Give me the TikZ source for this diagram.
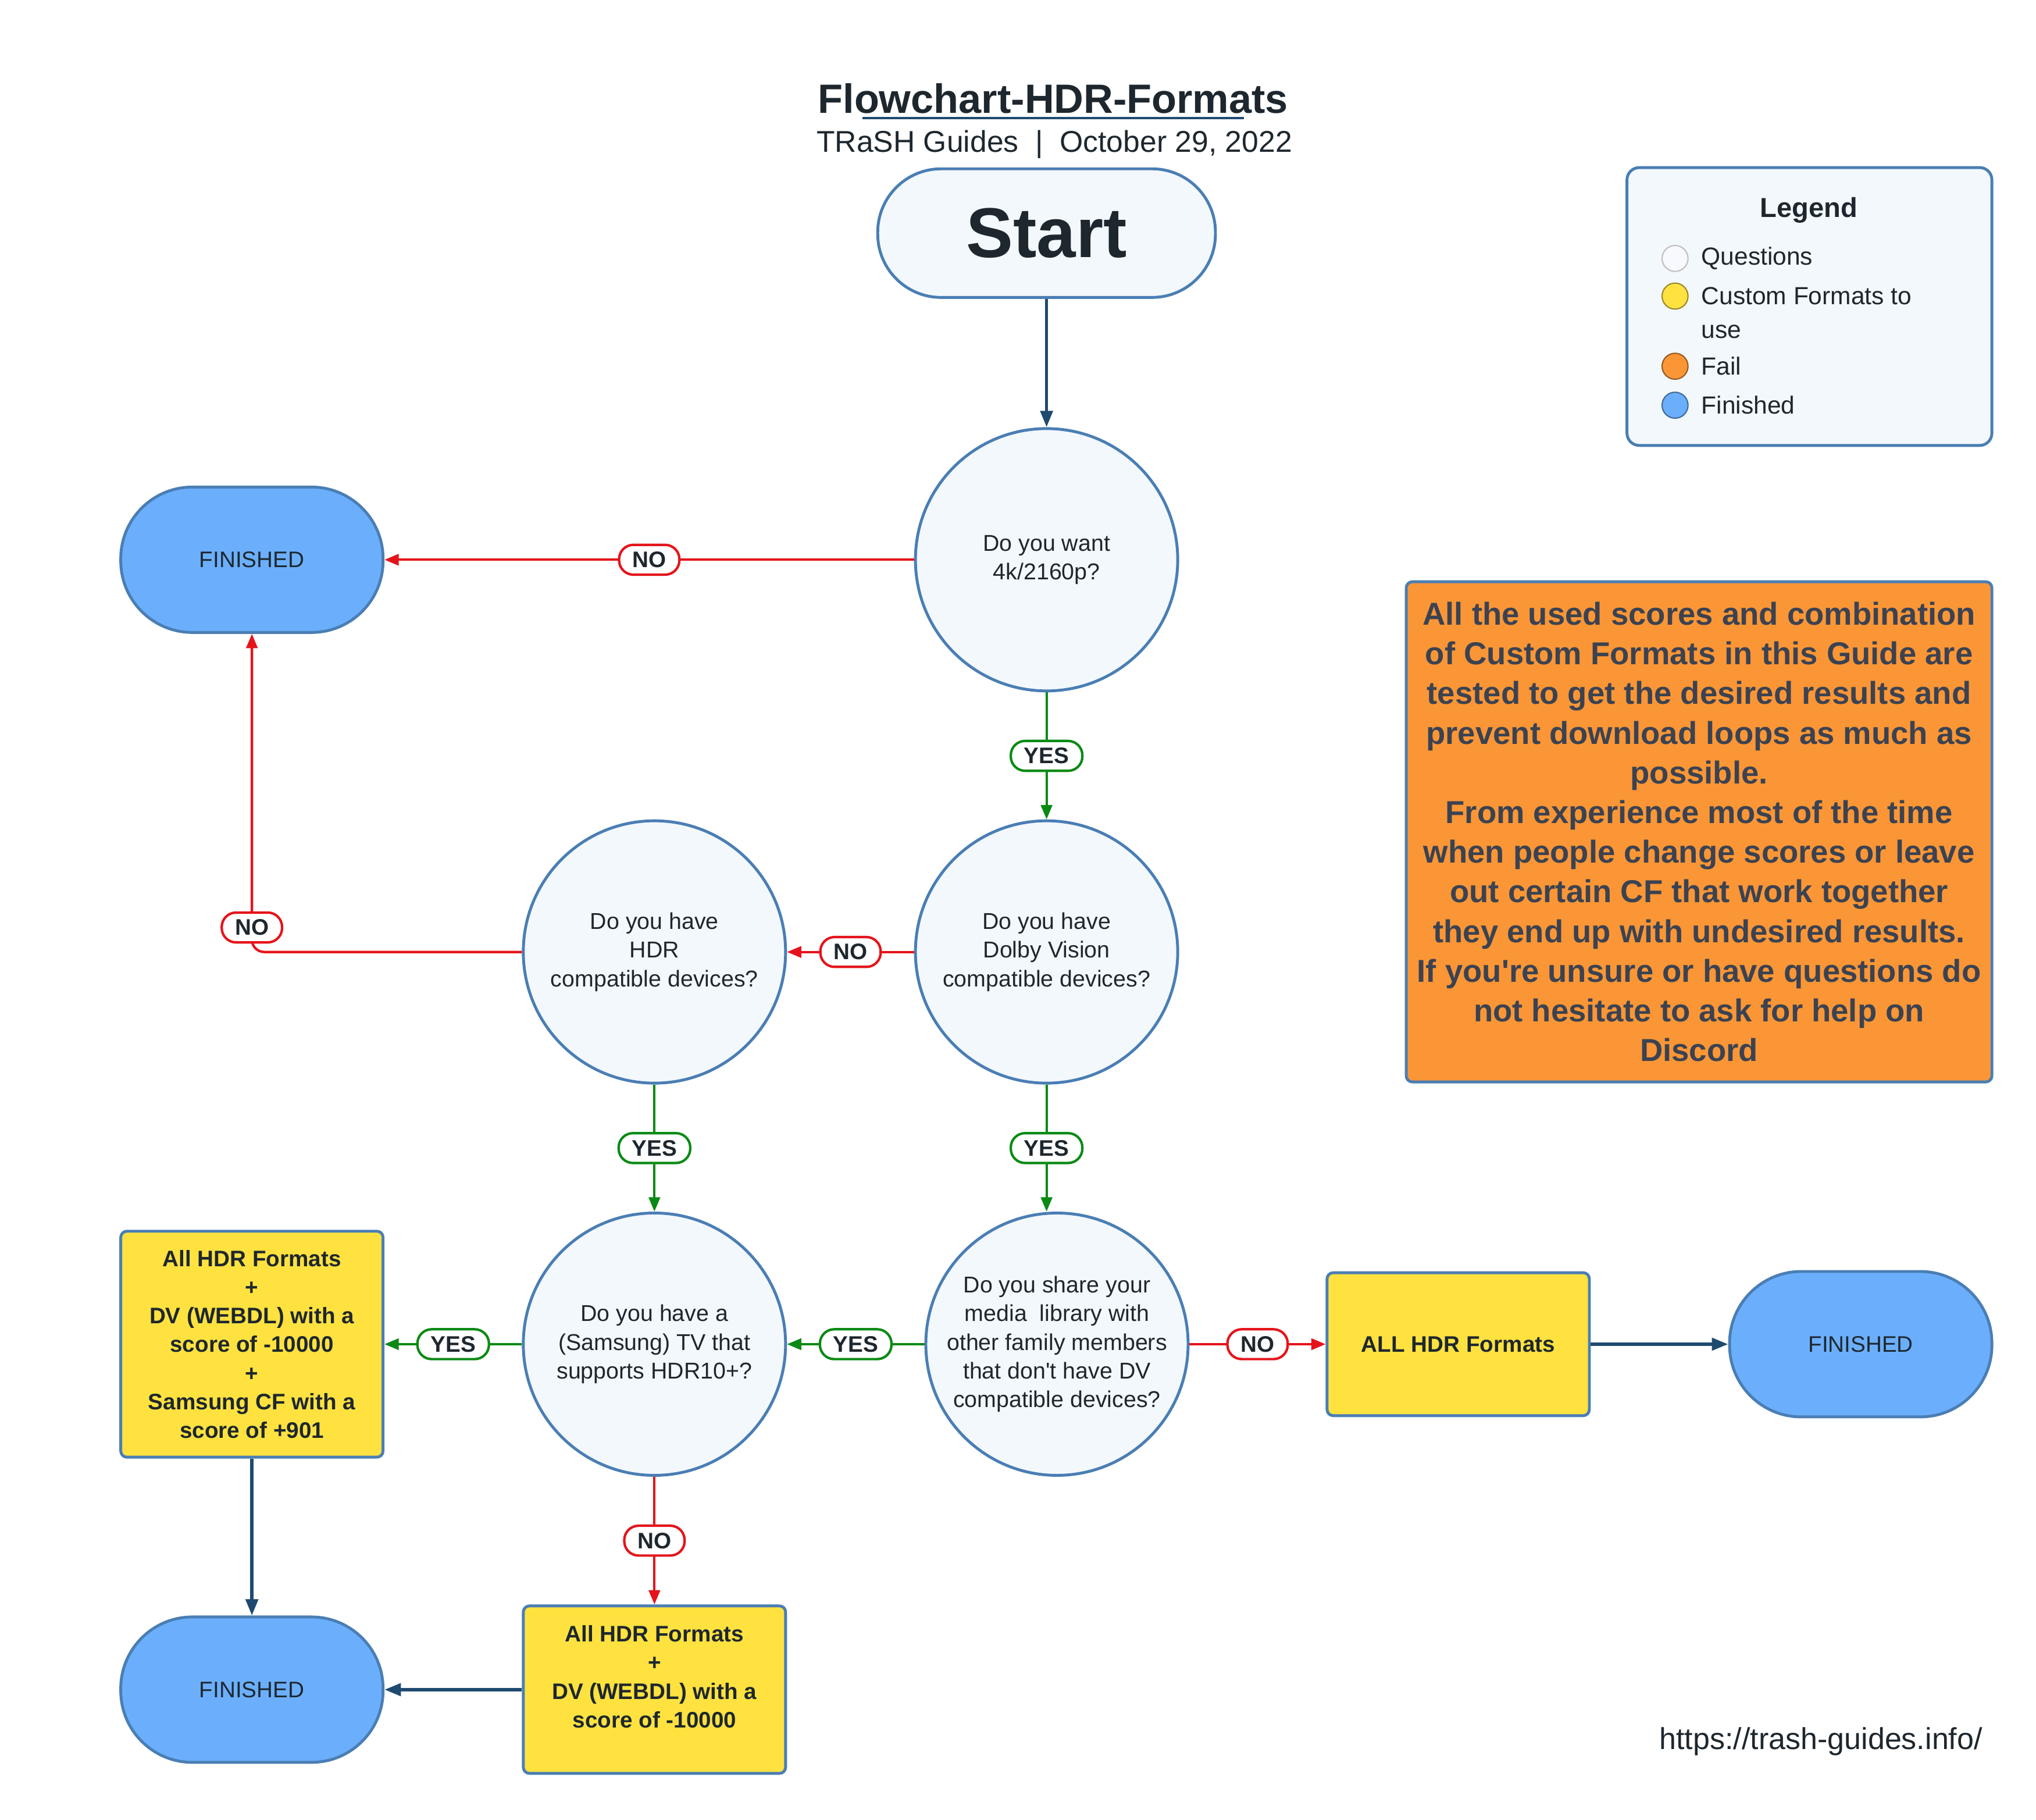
\documentclass[tikz,border=0pt]{standalone}
\usepackage{fontspec}
\setmainfont{Liberation Sans}[Ligatures=TeXOff]
\usetikzlibrary{arrows.meta}
\definecolor{qfill}{HTML}{F3F8FD}
\definecolor{bord}{HTML}{4A7EB4}
\definecolor{finfill}{HTML}{6BAFFC}
\definecolor{yel}{HTML}{FFE240}
\definecolor{ora}{HTML}{FA9636}
\definecolor{navy}{HTML}{1F4A70}
\definecolor{redl}{HTML}{E5141B}
\definecolor{grn}{HTML}{0A8A14}
\definecolor{txt}{HTML}{1E272E}
\definecolor{otxt}{HTML}{3B4251}
\begin{document}
\begin{tikzpicture}[x=0.022328cm,y=-0.022328cm,
  every node/.append style={text=txt},
  qnode/.style={circle,draw=bord,fill=qfill,line width=1.4pt,minimum size=128.3pt,inner sep=0pt,align=center,font=\fontsize{11.2}{14}\selectfont},
  finnode/.style={rectangle,rounded corners=35pt,draw=bord,fill=finfill,line width=1.4pt,minimum width=128.3pt,minimum height=71.1pt,font=\fontsize{11}{14}\selectfont},
  cfnode/.style={rectangle,rounded corners=3pt,draw=bord,fill=yel,line width=1.4pt,minimum width=128.3pt,align=center,inner sep=0pt,font=\bfseries\fontsize{11}{14}\selectfont},
  nolab/.style={draw=redl,fill=white,line width=1.2pt,rounded corners=7pt,font=\bfseries\fontsize{11}{13}\selectfont,minimum height=14.6pt,inner xsep=6.5pt,inner ysep=0pt},
  yeslab/.style={nolab,draw=grn},
  redar/.style={draw=redl,line width=1.2pt,-{Triangle[width=5.5pt,length=7pt]}},
  grnar/.style={draw=grn,line width=1.2pt,-{Triangle[width=5.5pt,length=7pt]}},
  navar/.style={draw=navy,line width=1.6pt,-{Triangle[width=6pt,length=8pt]}},
  legdot/.style={circle,minimum size=12.7pt,inner sep=0pt,line width=0.6pt},
  legtxt/.style={anchor=west,align=left,font=\fontsize{12.1}{16.5}\selectfont,inner sep=0pt}
]
\useasboundingbox[fill=white] (0,0) rectangle (1568,1401);

% title
\node (title) at (811,76) {\bfseries\fontsize{20}{24}\selectfont Flowchart-HDR-Formats};
\draw[navy,line width=1.3pt] (664,91) -- (958,91);
\node (subtitle) at (812,111) {\fontsize{14.7}{18}\selectfont TRaSH Guides~ |~ October 29, 2022};

% start
\node[rectangle,rounded corners=31pt,draw=bord,fill=qfill,line width=1.4pt,minimum width=165.2pt,minimum height=62.9pt,font=\bfseries\fontsize{34.5}{40}\selectfont] (start) at (806,179.5) {Start};

% questions
\node[qnode] (q1) at (806,431) {Do you want\\4k/2160p?};
\node[qnode] (q2) at (806,733) {Do you have\\Dolby Vision\\compatible devices?};
\node[qnode] (q3) at (504,733) {Do you have\\HDR\\compatible devices?};
\node[qnode] (q4) at (814,1035) {Do you share your\\media~ library with\\other family members\\that don't have DV\\compatible devices?};
\node[qnode] (q5) at (504,1035) {Do you have a\\(Samsung) TV that\\supports HDR10+?};

% finished
\node[finnode] (f1) at (194,431) {FINISHED};
\node[finnode] (f2) at (1433,1035) {FINISHED};
\node[finnode] (f3) at (194,1301) {FINISHED};

% custom format boxes
\node[cfnode,minimum height=69.9pt] (allhdr) at (1123,1035) {ALL HDR Formats};
\node[cfnode,minimum height=110.5pt] (boxa) at (194,1035) {All HDR Formats\\+\\DV (WEBDL) with a\\score of -10000\\+\\Samsung CF with a\\score of +901};
\node[cfnode,minimum height=81.9pt] (boxb) at (504,1301) {};
\node[align=center,font=\bfseries\fontsize{11}{14}\selectfont] (boxbtext) at (504,1291) {All HDR Formats\\+\\DV (WEBDL) with a\\score of -10000};

% connectors
\draw[navar] (start.south) -- (q1.north);
\draw[redar] (q1.west) -- node[nolab,pos=0.5] (no1) {NO} (f1.east);
\draw[grnar] (q1.south) -- node[yeslab,pos=0.5] (yes1) {YES} (q2.north);
\draw[redar] (q2.west) -- node[nolab,pos=0.5] (no2) {NO} (q3.east);
\draw[redar,rounded corners=6pt] (q3.west) -- (f1.south |- q3.west) -- node[nolab,pos=0.077] (no3) {NO} (f1.south);
\draw[grnar] (q3.south) -- node[yeslab,pos=0.5] (yes2) {YES} (q5.north);
\draw[grnar] (q2.south) -- node[yeslab,pos=0.5] (yes3) {YES} (q2.south |- q4.north);
\draw[grnar] (q4.west) -- node[yeslab,pos=0.5] (yes4) {YES} (q5.east);
\draw[redar] (q4.east) -- node[nolab,pos=0.5] (no4) {NO} (allhdr.west);
\draw[navar] (allhdr.east) -- (f2.west);
\draw[grnar] (q5.west) -- node[yeslab,pos=0.5] (yes5) {YES} (boxa.east);
\draw[redar] (q5.south) -- node[nolab,pos=0.5] (no5) {NO} (boxb.north);
\draw[navar] (boxa.south) -- (f3.north);
\draw[navar] (boxb.west) -- (f3.east);

% legend
\node[rectangle,rounded corners=6pt,draw=bord,fill=qfill,line width=1.4pt,minimum width=178.5pt,minimum height=135.9pt] (legend) at (1393.5,236) {};
\node[font=\bfseries\fontsize{13.4}{16}\selectfont] (legtitle) at (1393,162) {Legend};
\node[legdot,fill=qfill!70!blue!8,draw=black!25] (d1) at (1290,199) {};
\node[legdot,fill=yel,draw=yel!60!black] (d2) at (1290,228) {};
\node[legdot,fill=ora,draw=ora!60!black] (d3) at (1290,282) {};
\node[legdot,fill=finfill,draw=finfill!60!black] (d4) at (1290,312) {};
\node[legtxt] (l1) at (1310,199) {Questions};
\node[legtxt] (l2) at (1310,241) {Custom Formats to\\use};
\node[legtxt] (l3) at (1310,282) {Fail};
\node[legtxt] (l4) at (1310,312) {Finished};

% note box
\node[rectangle,rounded corners=3pt,draw=bord,fill=ora,line width=1.4pt,minimum width=286.5pt,minimum height=244.6pt,inner sep=0pt,align=center,text=otxt,font=\bfseries\fontsize{15.5}{19.4}\selectfont] (note) at (1308.5,640.5) {All the used scores and combination\\of Custom Formats in this Guide are\\tested to get the desired results and\\prevent download loops as much as\\possible.\\From experience most of the time\\when people change scores or leave\\out certain CF that work together\\they end up with undesired results.\\If you're unsure or have questions do\\not hesitate to ask for help on\\Discord};

% url
\node[anchor=east,font=\fontsize{14.8}{18}\selectfont,inner sep=0pt] (url) at (1527,1341) {https://trash-guides.info/};
\end{tikzpicture}
\end{document}
